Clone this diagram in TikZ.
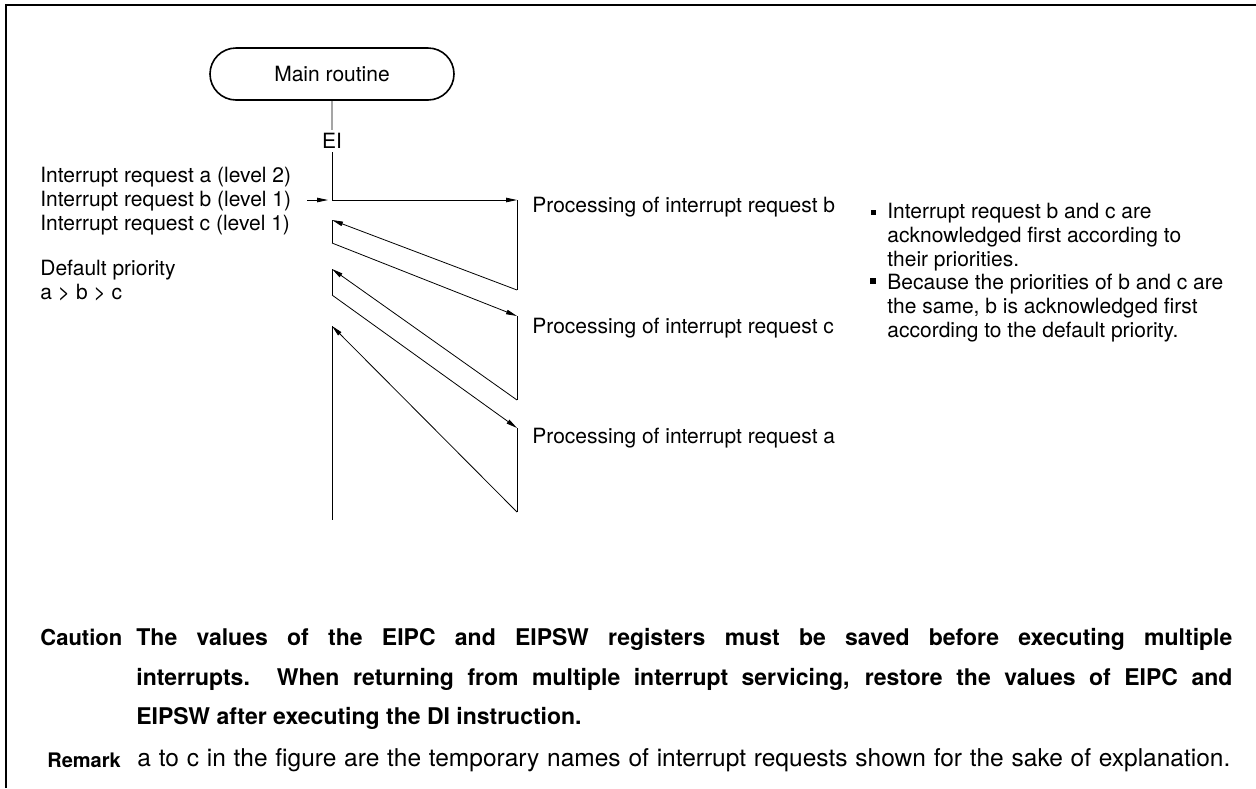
\documentclass[tikz,border=0pt]{standalone}
\usepackage{fontspec}
\setmainfont{TeX Gyre Heros}
\usetikzlibrary{shapes.misc,arrows.meta,positioning}

\tikzset{
  lbl/.style={inner sep=0pt,font=\fontsize{21}{24}\selectfont},
  notetxt/.style={inner sep=0pt,align=left,font=\fontsize{21}{24}\selectfont},
  captxt/.style={inner sep=0pt,font=\fontsize{23}{39.5}\selectfont\bfseries},
  arr/.style={-{Triangle[length=11pt,width=4.5pt]}},
  bul/.style={fill,inner sep=0pt,minimum size=5pt},
}

\begin{document}
\begin{tikzpicture}[x=1pt,y=-1pt,line width=0.8pt]
    \useasboundingbox(0,0)rectangle(1256,788);
    \draw[line width=2.6pt](6,788)--(6,5)--(1256,5);
    % main routine and EI
    \node[draw,rounded rectangle,line width=1.6pt,minimum width=244pt,minimum height=52pt,lbl](main)at(332,74){Main routine};
    \node[lbl,inner sep=3pt](ei)at(332,141){EI};
    \draw(main)--(ei);
    % request labels
    \node[lbl,anchor=west](reqa)at(40,177){Interrupt request a (level 2)};
    \node[lbl,anchor=west](reqb)at(40,201){Interrupt request b (level 1)};
    \node[lbl,anchor=west](reqc)at(40,225){Interrupt request c (level 1)};
    \node[lbl,anchor=north west,align=left](dflt)at(40,260){Default priority\\a > b > c};
    % zig-zag points
    \coordinate(irq)at(332,200);\coordinate(in)at(307,200);
    \coordinate(b0)at(517,200);\coordinate(b1)at(517,290);
    \coordinate(r1)at(332,220);\coordinate(s1)at(332,243);
    \coordinate(c0)at(517,316);\coordinate(c1)at(517,400);
    \coordinate(r2)at(332,269);\coordinate(s2)at(332,295);
    \coordinate(a0)at(517,428);\coordinate(a1)at(517,512);
    \coordinate(r3)at(332,326);\coordinate(fin)at(332,520);
    \draw(ei)--(irq);
    \draw[arr](in)--([xshift=-4pt]irq);
    \draw[arr](irq)--(b0);\draw(b0)--(b1);
    \draw[arr](b1)--(r1);\draw(r1)--(s1);
    \draw[arr](s1)--(c0);\draw(c0)--(c1);
    \draw[arr](c1)--(r2);\draw(r2)--(s2);
    \draw[arr](s2)--(a0);\draw(a0)--(a1);
    \draw[arr](a1)--(r3);\draw(r3)--(fin);
    % processing labels
    \node[lbl,anchor=west](pb)at(532,207){Processing of interrupt request b};
    \node[lbl,anchor=west](pc)at(532,328){Processing of interrupt request c};
    \node[lbl,anchor=west](pa)at(532,438){Processing of interrupt request a};
    % notes
    \node[bul](bul1)at(873,212){};
    \node[notetxt,anchor=north west](note1)at(887,203){Interrupt request b and c are\\acknowledged first according to\\their priorities.};
    \node[bul,minimum size=5.5pt](bul2)at(873,281){};
    \node[notetxt,anchor=north west](note2)at(887,274){Because the priorities of b and c are\\the same, b is acknowledged first\\according to the default priority.};
    % caution and remark
    \node[captxt,anchor=north west,font=\fontsize{22}{24}\selectfont\bfseries](caut)at(40,629){Caution};
    \node[captxt,anchor=north west,align=left](cautxt)at(136,628){%
      \makebox[1096pt][s]{The values of the EIPC and EIPSW registers must be saved before executing multiple}\\
      \makebox[1096pt][s]{interrupts.\ \ When returning from multiple interrupt servicing, restore the values of EIPC and}\\
      EIPSW after executing the DI instruction.};
    \node[lbl,anchor=west,font=\fontsize{20}{24}\selectfont\bfseries](rem)at(47,760){Remark};
    \node[lbl,anchor=west,font=\fontsize{24.5}{26}\selectfont](remtxt)at(137,760){\makebox[1093pt][s]{a to c in the figure are the temporary names of interrupt requests shown for the sake of explanation.}};
\end{tikzpicture}
\end{document}
